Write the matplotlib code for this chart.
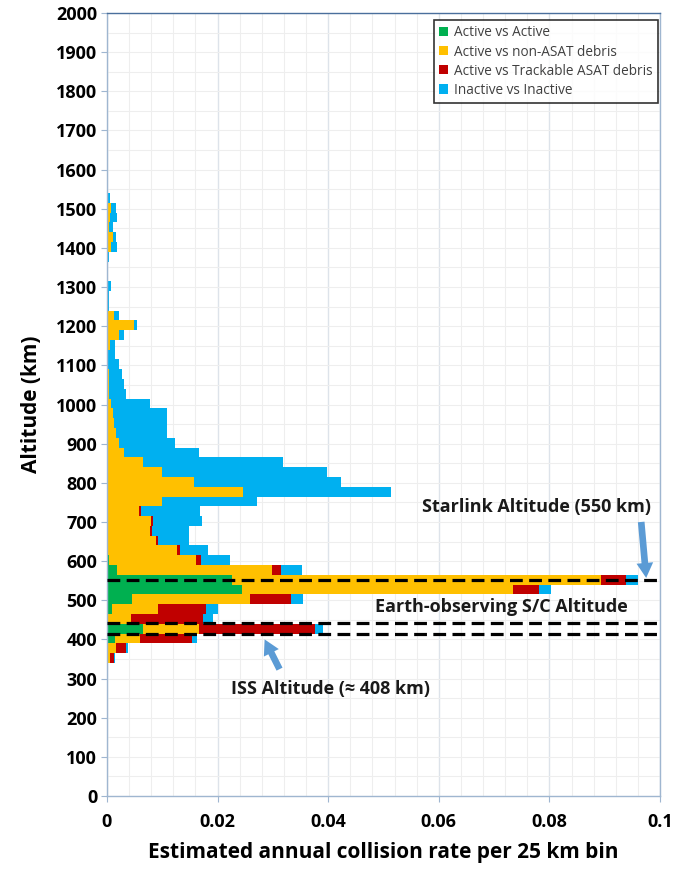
import matplotlib
matplotlib.use("Agg")
import matplotlib.pyplot as plt
from matplotlib.patches import Patch
from matplotlib.ticker import MultipleLocator, FuncFormatter
import numpy as np

# ---- data (25 km bins, lower edge in km) ----
bin_lower = [315, 340, 365, 390, 415, 440, 465, 490, 515, 540, 565, 590, 615, 640,
             665, 690, 715, 740, 765, 790, 815, 840, 865, 890, 915, 940, 965, 990,
             1015, 1040, 1065, 1090, 1115, 1140, 1165, 1190, 1215, 1240, 1265, 1290,
             1315, 1340, 1365, 1390, 1415, 1440, 1465, 1490, 1515, 1540, 1565, 1665]
active_active = [0, 0, 0, 0.00145, 0.0066, 0, 0.00085, 0.0045, 0.0244, 0.0226, 0.00175, 0.0004, 0, 0,
                 0, 0, 0, 0, 0, 0, 0, 0, 0, 0, 0, 0, 0, 0,
                 0, 0, 0, 0, 0, 0, 0, 0, 0, 0, 0, 0,
                 0, 0, 0, 0, 0, 0, 0, 0, 0, 0, 0, 0]
active_nonasat = [0, 0.00054, 0.00163, 0.00455, 0.0100, 0.0043, 0.0083, 0.0214, 0.0491, 0.0667, 0.0280, 0.0157, 0.0126, 0.0089,
                  0.0078, 0.0080, 0.0058, 0.0099, 0.0246, 0.0158, 0.0100, 0.0065, 0.0031, 0.0021, 0.0016, 0.0013, 0.0010, 0.0007,
                  0.0004, 0.0003, 0.0003, 0.0002, 0.0002, 0.0005, 0.0022, 0.0048, 0.0013, 0.0001, 0, 0,
                  0, 0, 0, 0.0008, 0.0010, 0.0003, 0.0005, 0.0008, 0, 0, 0, 0]
active_asat = [0.00025, 0.00073, 0.00181, 0.0093, 0.0210, 0.01315, 0.0087, 0.0073, 0.0046, 0.0045, 0.0017, 0.0009, 0.0006, 0.0003,
               0.0003, 0.0003, 0.0003, 0, 0, 0, 0, 0, 0, 0, 0, 0, 0, 0,
               0, 0, 0, 0, 0, 0, 0, 0, 0, 0, 0, 0,
               0, 0, 0, 0, 0, 0, 0, 0, 0, 0, 0, 0]
inactive_inactive = [0, 0.00013, 0.00042, 0.0009, 0.0015, 0.0018, 0.0022, 0.0022, 0.0022, 0.0022, 0.0038, 0.0052, 0.0051, 0.0057,
                     0.0068, 0.0088, 0.0107, 0.0172, 0.0267, 0.0265, 0.0298, 0.0254, 0.0136, 0.0102, 0.0092, 0.0095, 0.0098, 0.0071,
                     0.0030, 0.0027, 0.0024, 0.0019, 0.0013, 0.0010, 0.0008, 0.0007, 0.0008, 0.0003, 0.0004, 0.0008,
                     0.0002, 0.0002, 0.0003, 0.0010, 0.0006, 0.0007, 0.0013, 0.0008, 0.0005, 0.0002, 0.0002, 0.0002]
series_names = ["Active vs Active", "Active vs non-ASAT debris",
                "Active vs Trackable ASAT debris", "Inactive vs Inactive"]
series_colors = ["#00B050", "#FFC000", "#C00000", "#00B0F0"]
bin_width = 25

ref_altitudes = [551, 441, 413]

FONT = ["Open Sans", "DejaVu Sans"]
plt.rcParams["font.family"] = FONT

fig = plt.figure(figsize=(6.8, 8.69), dpi=100)
ax = fig.add_axes([107/680, 73/869, 553/680, 783/869])

left = np.zeros(len(bin_lower))
for vals, name, col in zip([active_active, active_nonasat, active_asat, inactive_inactive],
                           series_names, series_colors):
    v = np.array(vals)
    ax.barh(bin_lower, v, height=bin_width, left=left, align="edge",
            color=col, edgecolor="none", label=name, zorder=2)
    left += v

ax.set_xlim(0, 0.1)
ax.set_ylim(0, 2000)
ax.xaxis.set_major_locator(MultipleLocator(0.02))
ax.xaxis.set_minor_locator(MultipleLocator(0.004))
ax.yaxis.set_major_locator(MultipleLocator(100))
ax.yaxis.set_minor_locator(MultipleLocator(50))
ax.xaxis.set_major_formatter(FuncFormatter(lambda v, p: "0" if abs(v) < 1e-9 else f"{v:.2f}".rstrip("0")))
ax.grid(which="major", axis="x", color="#dde3ea", lw=1.0, zorder=0)
ax.grid(which="minor", axis="x", color="#eeeeee", lw=0.8, zorder=0)
ax.grid(which="both", axis="y", color="#eeeeee", lw=0.8, zorder=0)
ax.set_axisbelow(True)

for sp in ax.spines.values():
    sp.set_color("#9fb6d0")
    sp.set_linewidth(1.0)
ax.spines["top"].set_color("#4a6f9c")

ax.tick_params(axis="both", which="major", labelsize=13, length=4, color="#9fb6d0", pad=3)
ax.tick_params(axis="both", which="minor", length=0)
for lab in ax.get_xticklabels() + ax.get_yticklabels():
    lab.set_fontweight("bold")
ax.tick_params(axis="x", pad=8)

ax.set_xlabel("Estimated annual collision rate per 25 km bin", fontsize=15,
              fontweight="bold", labelpad=8)
ax.set_ylabel("Altitude (km)", fontsize=15, fontweight="bold", labelpad=10)

for a in ref_altitudes:
    ax.axhline(a, color="black", lw=2.3, ls=(0, (4, 2)), zorder=3)

arrow_col = "#5B9BD5"
astyle = "simple,head_length=0.9,head_width=1.0,tail_width=0.4"
ax.annotate("", xy=(0.0975, 557), xytext=(0.0966, 700),
            arrowprops=dict(arrowstyle=astyle, color=arrow_col, lw=0, mutation_scale=12,
                            shrinkA=0, shrinkB=0), zorder=4)
ax.annotate("", xy=(0.0285, 400), xytext=(0.0312, 324),
            arrowprops=dict(arrowstyle=astyle, color=arrow_col, lw=0, mutation_scale=12,
                            shrinkA=0, shrinkB=0), zorder=4)

ax.text(0.0777, 738, "Starlink Altitude (550 km)", ha="center", va="center",
        fontsize=13, fontweight="bold", color="#1a1a1a", zorder=5)
ax.text(0.0714, 483, "Earth-observing S/C Altitude", ha="center", va="center",
        fontsize=13, fontweight="bold", color="#1a1a1a", zorder=5)
ax.text(0.0404, 273, "ISS Altitude (\u2248 408 km)", ha="center", va="center",
        fontsize=13, fontweight="bold", color="#1a1a1a", zorder=5)

handles = [Patch(facecolor=c, edgecolor="none") for c in series_colors]
leg = ax.legend(handles, series_names, loc="upper right", bbox_to_anchor=(0.996, 0.991),
                fontsize=9.8, frameon=True, fancybox=False, handlelength=0.65, handleheight=0.65,
                handletextpad=0.4, borderpad=0.4, labelspacing=0.3, borderaxespad=0)
leg.get_frame().set_edgecolor("black")
leg.get_frame().set_linewidth(1.2)
for t in leg.get_texts():
    t.set_color("#404040")
leg.set_zorder(6)

fig.savefig("out.png", dpi=100)
